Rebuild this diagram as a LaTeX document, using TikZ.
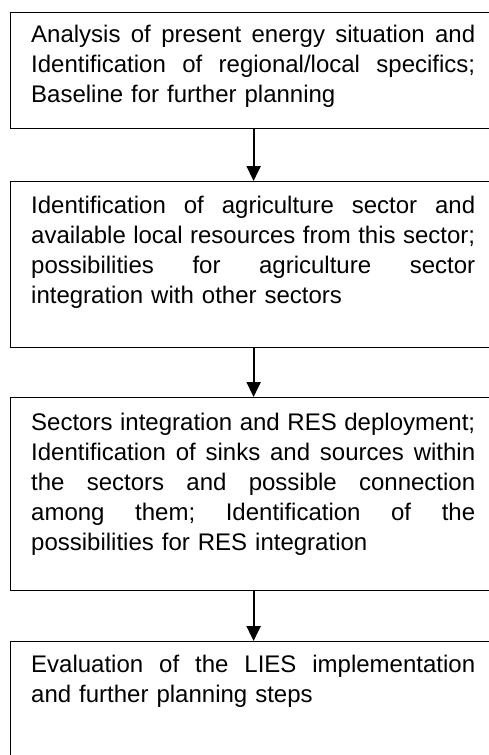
\documentclass[tikz,border=0pt]{standalone}
\usepackage{fontspec}
\setmainfont{Liberation Sans}
\usetikzlibrary{arrows.meta}
\newcommand{\jline}[1]{\leavevmode\hbox to 444pt{#1}}
\def\g{\hfill}
\begin{document}
\begin{tikzpicture}[x=1pt,y=-1pt,
  stepbox/.style={draw, line width=1.2pt, minimum width=486pt, inner sep=0pt, anchor=north west},
  steptext/.style={anchor=north west, inner sep=0pt, text width=444pt, align=left,
    font=\fontsize{24}{30}\selectfont},
  flow/.style={line width=2pt, -{Triangle[width=14pt,length=15pt]}}]
\useasboundingbox (0,0) rectangle (488,755);
\node[stepbox, minimum height=116pt] (b1) at (10,12) {};
\node[stepbox, minimum height=166pt] (b2) at (10,181) {};
\node[stepbox, minimum height=193pt] (b3) at (10,397) {};
\node[stepbox, minimum height=130pt] (b4) at (10,641) {};
\node[steptext] (t1) at (31,24) {\rule{0pt}{18pt}\jline{Analysis\g of\g present\g energy\g situation\g and}\\
\jline{Identification\g of\g regional/local\g specifics;}\\
Baseline for further planning};
\node[steptext] (t2) at (31,195) {\rule{0pt}{18pt}\jline{Identification\g of\g agriculture\g sector\g and}\\
\jline{available\g local\g resources\g from\g this\g sector;}\\
\jline{possibilities\g for\g agriculture\g sector}\\
integration with other sectors};
\node[steptext] (t3) at (31,412) {\rule{0pt}{18pt}\jline{Sectors\g integration\g and\g RES\g deployment;}\\
\jline{Identification\g of\g sinks\g and\g sources\g within}\\
\jline{the\g sectors\g and\g possible\g connection}\\
\jline{among\g them;\g Identification\g of\g the}\\
possibilities for RES integration};
\node[steptext] (t4) at (31,654) {\rule{0pt}{18pt}\jline{Evaluation\g of\g the\g LIES\g implementation}\\
and further planning steps};
\draw[flow] (b1.south) -- (b2.north);
\draw[flow] (b2.south) -- (b3.north);
\draw[flow] (b3.south) -- (b4.north);
\end{tikzpicture}
\end{document}
